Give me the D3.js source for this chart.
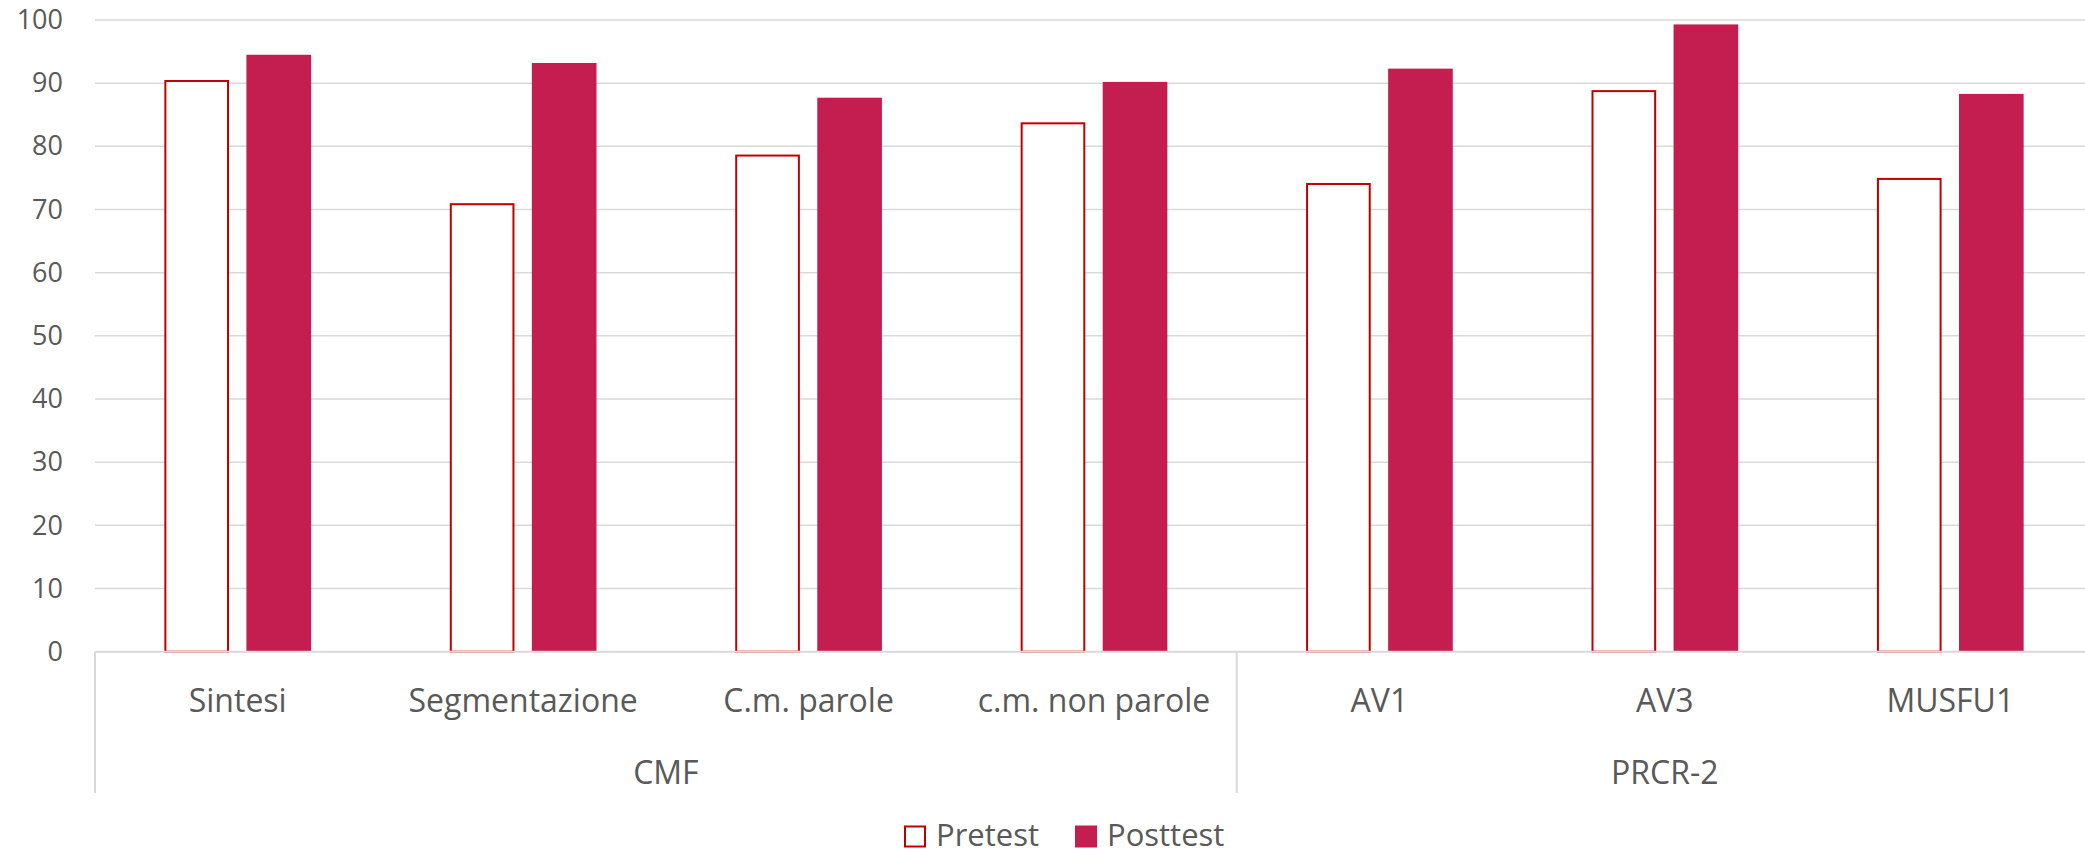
<!DOCTYPE html>
<html><head><meta charset="utf-8">
<script src="https://cdn.jsdelivr.net/npm/d3@7/dist/d3.min.js"></script>
<style>html,body{margin:0;padding:0;background:#fff;overflow:hidden}svg{display:block}</style>
</head><body>
<svg id="c" width="2085" height="852"></svg>
<script>
const categories = ["Sintesi","Segmentazione","C.m. parole","c.m. non parole","AV1","AV3","MUSFU1"];
const groupNames = ["CMF","PRCR-2"];
const groupSizes = [4,3];
const seriesNames = ["Pretest","Posttest"];
const pretest = [90.5,71.0,78.7,83.8,74.2,88.9,75.0];
const posttest = [94.5,93.2,87.7,90.2,92.3,99.3,88.3];
const yTicks = [0,10,20,30,40,50,60,70,80,90,100];

const W = 2085, H = 852;
const left = 95, right = 2093, y0 = 651.7, yTop = 20, axisBottom = 793;
const textColor = "#595959", gridColor = "#d9d9d9";
const preStroke = "#c00000", postFill = "#c41e50";
const font = "'Open Sans', 'Noto Sans', sans-serif";

const svg = d3.select("#c");
const x = d3.scaleBand().domain(categories).range([left, right]);
const bw = x.bandwidth();
const xs = d3.scaleBand().domain(seriesNames).range([0.243*bw, 0.757*bw]).paddingInner(0.212);
const y = d3.scaleLinear().domain([0,100]).range([y0, yTop]);

// gridlines
svg.append("g").selectAll("line").data(yTicks.filter(d=>d>0)).join("line")
  .attr("x1", left).attr("x2", right)
  .attr("y1", d=>y(d)).attr("y2", d=>y(d))
  .attr("stroke", gridColor).attr("stroke-width", 1.5);

// y axis labels
const ya = svg.append("g").attr("transform", `translate(${left},0)`)
  .call(d3.axisLeft(y).tickValues(yTicks).tickSize(0).tickPadding(32));
ya.select(".domain").remove();
ya.selectAll("text").attr("fill", textColor).style("font-family", font).style("font-size","27px");

// bars
const data = categories.map((c,i)=>({c, pre: pretest[i], post: posttest[i]}));
svg.append("g").selectAll("rect").data(data).join("rect")
  .attr("x", d=>x(d.c)+xs("Pretest")+1)
  .attr("width", xs.bandwidth()-2)
  .attr("y", d=>y(d.pre)+1)
  .attr("height", d=>y(0)-y(d.pre)-1)
  .attr("fill", "#fff").attr("stroke", preStroke).attr("stroke-width", 2);
svg.append("g").selectAll("rect").data(data).join("rect")
  .attr("x", d=>x(d.c)+xs("Posttest"))
  .attr("width", xs.bandwidth())
  .attr("y", d=>y(d.post))
  .attr("height", d=>y(0)-y(d.post))
  .attr("fill", postFill);

// x axis line
svg.append("line").attr("x1", left).attr("x2", right).attr("y1", y0).attr("y2", y0)
  .attr("stroke", gridColor).attr("stroke-width", 2);

// group separators
let idx = 0;
const bounds = [left];
groupSizes.forEach(n=>{ idx += n; bounds.push(idx < categories.length ? x(categories[idx]) : right); });
svg.append("g").selectAll("line").data(bounds.slice(0, bounds.length-1)).join("line")
  .attr("x1", d=>d).attr("x2", d=>d).attr("y1", y0).attr("y2", axisBottom)
  .attr("stroke", gridColor).attr("stroke-width", 2);

// category labels
svg.append("g").selectAll("text").data(categories).join("text")
  .attr("x", d=>x(d)+bw/2).attr("y", 711.5)
  .attr("text-anchor","middle").attr("fill", textColor)
  .style("font-family", font).style("font-size","32px").text(d=>d);

// group labels
svg.append("g").selectAll("text").data(groupNames).join("text")
  .attr("x", (d,i)=>(bounds[i]+bounds[i+1])/2).attr("y", 784)
  .attr("text-anchor","middle").attr("fill", textColor)
  .style("font-family", font).style("font-size","32px").text(d=>d);

// legend
const leg = svg.append("g");
const legX = [904, 1075];
seriesNames.forEach((s,i)=>{
  if (i===0) {
    leg.append("rect").attr("x", legX[i]+1).attr("y", 826.5).attr("width", 20).attr("height", 20)
      .attr("fill","#fff").attr("stroke", preStroke).attr("stroke-width", 2);
  } else {
    leg.append("rect").attr("x", legX[i]).attr("y", 825.5).attr("width", 22).attr("height", 22)
      .attr("fill", postFill);
  }
  leg.append("text").attr("x", legX[i]+32).attr("y", 845.5).attr("fill", textColor)
    .style("font-family", font).style("font-size","31px").text(s);
});
</script>
</body></html>
